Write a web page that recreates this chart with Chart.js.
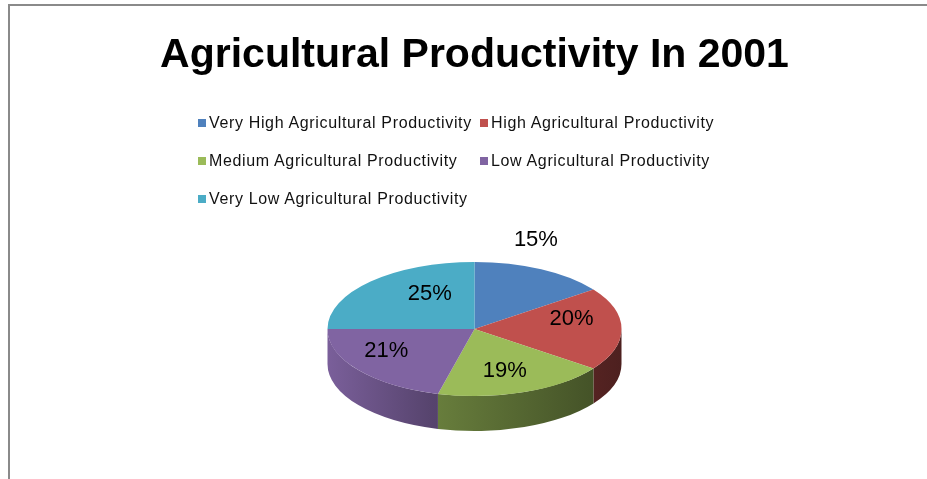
<!DOCTYPE html>
<html>
<head>
<meta charset="utf-8">
<title>Agricultural Productivity In 2001</title>
<script src="https://cdn.jsdelivr.net/npm/chart.js@4.4.1/dist/chart.umd.min.js"></script>
<style>
  html, body { margin: 0; padding: 0; background: #fff; overflow: hidden; }
  #wrap { position: relative; width: 927px; height: 479px; }
  #frame {
    position: absolute; left: 8px; top: 4px; width: 940px; height: 500px;
    border-top: 2px solid #8a8a8a; border-left: 2px solid #8a8a8a;
    pointer-events: none;
  }
  #legend {
    position: absolute; left: 198px; top: 104px;
    display: grid; grid-template-columns: 282px auto; grid-auto-rows: 38px;
    font: 16px "Liberation Sans", Arial, sans-serif; letter-spacing: 0.65px; color: #111;
  }
  #legend .item { display: flex; align-items: center; white-space: nowrap; }
  #legend .box { width: 8px; height: 8px; margin-right: 3px; flex: none; }
</style>
</head>
<body>
<div id="wrap">
  <canvas id="myChart" width="927" height="479"></canvas>
  <div id="legend"></div>
  <div id="frame"></div>
</div>
<script>
const labels = [
  'Very High Agricultural Productivity',
  'High Agricultural Productivity',
  'Medium Agricultural Productivity',
  'Low Agricultural Productivity',
  'Very Low Agricultural Productivity'
];
const values = [15, 20, 19, 21, 25];
const colors = ['#4F81BD', '#C0504D', '#9BBB59', '#8064A2', '#4BACC6'];

// darken a hex colour by factor f
function shade(hex, f) {
  const n = parseInt(hex.slice(1), 16);
  const r = Math.round(((n >> 16) & 255) * f);
  const g = Math.round(((n >> 8) & 255) * f);
  const b = Math.round((n & 255) * f);
  return `rgb(${r},${g},${b})`;
}

// tilted pie: squash the arcs into an ellipse and add the side walls
const pie3d = {
  id: 'pie3d',
  beforeDatasetsDraw(chart, args, opts) {
    const ctx = chart.ctx;
    const arcs = chart.getDatasetMeta(0).data;
    const { cx, cy, rx, ry, depth } = opts;

    // only the front half (0..PI) of the rim is visible
    arcs.forEach((arc, i) => {
      const lo = Math.max(arc.startAngle, 0);
      const hi = Math.min(arc.endAngle, Math.PI);
      if (hi <= lo) return;
      const base = colors[i];
      const grad = ctx.createLinearGradient(cx - rx, 0, cx + rx, 0);
      grad.addColorStop(0, shade(base, 0.95));
      grad.addColorStop(0.35, shade(base, 0.68));
      grad.addColorStop(1, shade(base, 0.4));
      ctx.beginPath();
      ctx.ellipse(cx, cy, rx, ry, 0, lo, hi);
      ctx.ellipse(cx, cy + depth, rx, ry, 0, hi, lo, true);
      ctx.closePath();
      ctx.fillStyle = grad;
      ctx.fill();
    });

    const a = arcs[0];
    ctx.save();
    ctx.translate(cx, cy);
    ctx.scale(rx / a.outerRadius, ry / a.outerRadius);
    ctx.translate(-a.x, -a.y);
  },
  afterDatasetsDraw(chart, args, opts) {
    const ctx = chart.ctx;
    ctx.restore();

    const arcs = chart.getDatasetMeta(0).data;
    const total = values.reduce((s, v) => s + v, 0);
    const { cx, cy, rx, ry, hubY } = opts;
    ctx.save();
    ctx.font = opts.font;
    ctx.fillStyle = '#000';
    ctx.textAlign = 'center';
    ctx.textBaseline = 'middle';
    arcs.forEach((arc, i) => {
      const mid = (arc.startAngle + arc.endAngle) / 2;
      const [fx, fy] = opts.labelPlace[i];
      const txt = Math.round(values[i] / total * 100) + '%';
      ctx.fillText(txt, cx + fx * rx * Math.cos(mid), cy + hubY + fy * ry * Math.sin(mid));
    });
    ctx.restore();
  }
};

// legend as html so the items line up in two columns
const htmlLegend = {
  id: 'htmlLegend',
  afterUpdate(chart) {
    const box = document.getElementById('legend');
    box.innerHTML = '';
    const items = chart.options.plugins.legend.labels.generateLabels(chart);
    items.forEach(item => {
      const el = document.createElement('div');
      el.className = 'item';
      el.innerHTML = `<span class="box" style="background:${item.fillStyle}"></span><span>${item.text}</span>`;
      box.appendChild(el);
    });
  }
};

const ctx = document.getElementById('myChart').getContext('2d');
const myChart = new Chart(ctx, {
  type: 'pie',
  data: {
    labels: labels,
    datasets: [{
      data: values,
      backgroundColor: colors,
      borderWidth: 0
    }]
  },
  options: {
    responsive: false,
    animation: false,
    events: [],
    layout: { padding: { left: 22, right: 0, top: 0, bottom: 105 } },
    plugins: {
      title: {
        display: true,
        text: 'Agricultural Productivity In 2001',
        color: '#000',
        font: { family: 'Liberation Sans', size: 41, weight: 'bold', lineHeight: 1.2 },
        padding: { top: 31, bottom: 0 }
      },
      legend: { display: false },
      tooltip: { enabled: false },
      pie3d: {
        cx: 474.5, cy: 329, rx: 147, ry: 67, depth: 35, hubY: -10,
        font: '22px "Liberation Sans", Arial, sans-serif',
        labelPlace: [[0.92, 1.32], [0.66, 0], [0.61, 0.82], [0.76, 0.78], [0.43, 0.53]]
      }
    }
  },
  plugins: [pie3d, htmlLegend]
});
</script>
</body>
</html>
